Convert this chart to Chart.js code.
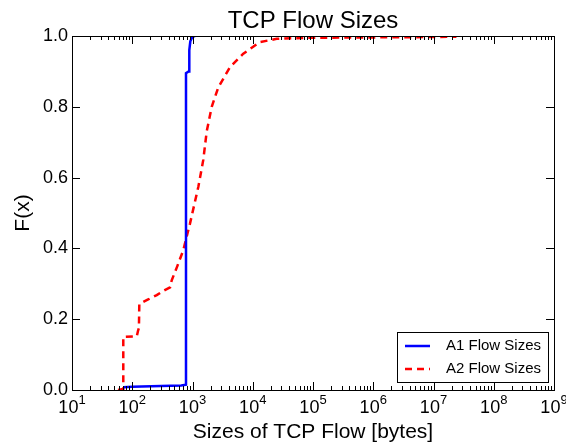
<!DOCTYPE html>
<html>
<head>
<meta charset="utf-8">
<script src="https://cdn.jsdelivr.net/npm/chart.js@4.4.0/dist/chart.umd.min.js"></script>
<style>
html, body { margin: 0; padding: 0; background: #fff; }
#wrap { width: 566px; height: 443px; }
</style>
</head>
<body>
<div id="wrap"><canvas id="cdf" width="566" height="443"></canvas></div>
<script>
// CDF of TCP flow sizes
const a1Sizes = [71, 100, 300, 650, 780, 780, 860, 885, 885, 920, 1000, 1100];
const a1Cdf   = [0.008, 0.009, 0.011, 0.013, 0.015, 0.895, 0.9, 0.9, 0.96, 0.985, 0.998, 1.0];

const a2Sizes = [58, 70, 71, 71, 119, 125, 129, 131, 180, 255, 327, 424, 452, 560, 703, 908,
                 1250, 1510, 1720, 2085, 2680, 4190, 6970, 13200, 25000, 89000, 1e6, 1e7, 2.4e7];
const a2Cdf   = [0.0, 0.003, 0.003, 0.15, 0.152, 0.168, 0.175, 0.243, 0.255, 0.268, 0.28, 0.29,
                 0.31, 0.35, 0.395, 0.47, 0.574, 0.65, 0.73, 0.8, 0.855, 0.912, 0.95, 0.983,
                 0.992, 0.995, 0.996, 0.997, 0.998];

const xTickExponents = [1, 2, 3, 4, 5, 6, 7, 8, 9];
const yTickValues = [0.0, 0.2, 0.4, 0.6, 0.8, 1.0];

const seriesNames = ["A1 Flow Sizes", "A2 Flow Sizes"];
const FONT = '"Liberation Sans", Arial, sans-serif';

function toPoints(xs, ys) {
    return xs.map((x, i) => ({ x: x, y: ys[i] }));
}

// matplotlib-like frame, inward ticks, superscript labels and legend
const mplPlugin = {
    id: "mplFrame",
    afterDatasetsDraw(chart) {
        const { ctx, chartArea: a, scales } = chart;
        const xs = scales.x, ys = scales.y;
        ctx.save();
        ctx.strokeStyle = "#000";
        ctx.lineWidth = 1;
        ctx.strokeRect(a.left + 0.5, a.top + 0.5, a.right - a.left, a.bottom - a.top);

        ctx.beginPath();
        const lastExp = xTickExponents[xTickExponents.length - 1];
        xTickExponents.forEach(e => {
            for (let m = 1; m < 10; m++) {
                if (m > 1 && e === lastExp) break;
                const px = Math.round(xs.getPixelForValue(m * Math.pow(10, e))) + 0.5;
                const len = m === 1 ? 8 : 4;
                ctx.moveTo(px, a.bottom); ctx.lineTo(px, a.bottom - len);
                ctx.moveTo(px, a.top); ctx.lineTo(px, a.top + len);
            }
        });
        yTickValues.forEach(v => {
            const py = Math.round(ys.getPixelForValue(v)) + 0.5;
            ctx.moveTo(a.left, py); ctx.lineTo(a.left + 8, py);
            ctx.moveTo(a.right, py); ctx.lineTo(a.right - 8, py);
        });
        ctx.stroke();

        // y tick labels
        ctx.fillStyle = "#000";
        ctx.font = "18px " + FONT;
        ctx.textAlign = "right";
        ctx.textBaseline = "middle";
        yTickValues.forEach(v => {
            ctx.fillText(v.toFixed(1), a.left - 4, ys.getPixelForValue(v));
        });

        // x tick labels 10^n
        ctx.textAlign = "left";
        ctx.textBaseline = "alphabetic";
        xTickExponents.forEach(e => {
            const px = xs.getPixelForValue(Math.pow(10, e));
            ctx.font = "18px " + FONT;
            const wb = ctx.measureText("10").width;
            ctx.font = "13px " + FONT;
            const we = ctx.measureText(String(e)).width;
            const x0 = px - (wb + we) / 2;
            ctx.font = "18px " + FONT;
            ctx.fillText("10", x0, a.bottom + 23);
            ctx.font = "13px " + FONT;
            ctx.fillText(String(e), x0 + wb, a.bottom + 14);
        });

        // titles
        ctx.textAlign = "center";
        ctx.font = "24px " + FONT;
        ctx.fillText("TCP Flow Sizes", (a.left + a.right) / 2, 28);
        ctx.font = "21px " + FONT;
        ctx.fillText("Sizes of TCP Flow [bytes]", (a.left + a.right) / 2, 438);
        ctx.save();
        ctx.translate(29, (a.top + a.bottom) / 2);
        ctx.rotate(-Math.PI / 2);
        ctx.fillText("F(x)", 0, 0);
        ctx.restore();

        // legend
        const lx = 397, ly = 332, lw = 151, lh = 50;
        ctx.fillStyle = "#fff";
        ctx.fillRect(lx, ly, lw, lh);
        ctx.strokeStyle = "#000";
        ctx.lineWidth = 1;
        ctx.strokeRect(lx + 0.5, ly + 0.5, lw, lh);
        chart.data.datasets.forEach((ds, i) => {
            const yy = ly + 14 + i * 23;
            ctx.strokeStyle = ds.borderColor;
            ctx.lineWidth = ds.borderWidth;
            ctx.setLineDash(ds.borderDash || []);
            ctx.beginPath();
            ctx.moveTo(405, yy);
            ctx.lineTo(430, yy);
            ctx.stroke();
            ctx.setLineDash([]);
            ctx.fillStyle = "#000";
            ctx.font = "15px " + FONT;
            ctx.textAlign = "left";
            ctx.textBaseline = "middle";
            ctx.fillText(ds.label, 446, yy);
        });
        ctx.restore();
    }
};

new Chart(document.getElementById("cdf"), {
    type: "line",
    data: {
        datasets: [
            {
                label: seriesNames[0],
                data: toPoints(a1Sizes, a1Cdf),
                borderColor: "#0000ff",
                borderWidth: 2.5,
                pointRadius: 0,
                tension: 0,
                fill: false
            },
            {
                label: seriesNames[1],
                data: toPoints(a2Sizes, a2Cdf),
                borderColor: "#ff0000",
                borderWidth: 2.5,
                borderDash: [7, 5],
                pointRadius: 0,
                tension: 0,
                fill: false
            }
        ]
    },
    options: {
        responsive: false,
        animation: false,
        devicePixelRatio: 1,
        layout: { padding: { top: 36, right: 12, left: 0, bottom: 0 } },
        plugins: {
            legend: { display: false },
            tooltip: { enabled: false },
            title: { display: false }
        },
        scales: {
            x: {
                type: "logarithmic",
                min: 10,
                max: 1e9,
                grid: { display: false },
                border: { display: false },
                ticks: { display: false },
                afterFit: s => { s.height = 53; }
            },
            y: {
                min: 0,
                max: 1,
                grid: { display: false },
                border: { display: false },
                ticks: { display: false },
                afterFit: s => { s.width = 72; }
            }
        }
    },
    plugins: [mplPlugin]
});
</script>
</body>
</html>
